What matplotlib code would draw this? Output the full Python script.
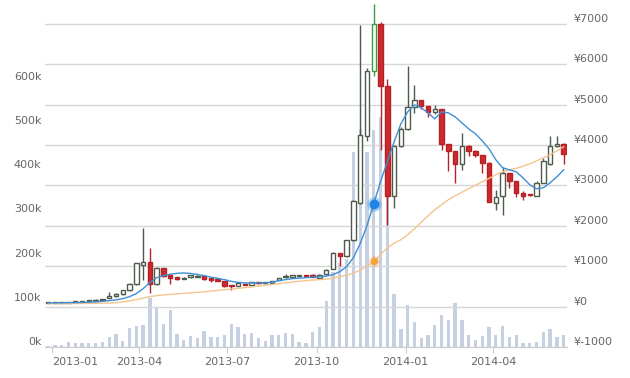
import pandas as pd
import matplotlib
matplotlib.use('Agg')
import matplotlib.pyplot as plt
import matplotlib.dates as mdates

# weekly candles
dates = pd.date_range('2012-12-28', periods=77, freq='7D')

opens = [88, 92, 95, 100, 108, 115, 128, 140, 170, 215,
         260, 320, 405, 560, 1020, 1105, 562, 950, 775, 725,
         695, 730, 740, 760, 710, 690, 626, 515, 520, 570,
         540, 590, 575, 580, 655, 740, 740, 750, 755, 790,
         720, 810, 935, 1320, 1262, 1641, 2566, 4215, 5825, 7004,
         5470, 2730, 3968, 4405, 4933, 5106, 4957, 4818, 4893, 4020,
         3844, 3540, 3990, 3861, 3745, 3557, 2566, 2730, 3309, 3102,
         2814, 2780, 2747, 3062, 3532, 3968, 4027]
closes = [92, 95, 100, 108, 115, 128, 140, 170, 180, 270,
          320, 410, 570, 1080, 1105, 560, 958, 750, 700, 690,
          710, 775, 770, 690, 660, 640, 502, 505, 585, 545,
          600, 575, 585, 640, 710, 755, 785, 755, 750, 740,
          790, 915, 1330, 1245, 1641, 2606, 4240, 5825, 7004, 5470,
          2747, 3968, 4400, 4933, 5106, 4957, 4818, 4905, 4020, 3844,
          3540, 3980, 3860, 3745, 3557, 2600, 2705, 3309, 3119, 2814,
          2730, 2760, 3062, 3597, 3968, 4027, 3779]
lows = [86, 90, 93, 98, 105, 112, 125, 135, 165, 205,
        245, 300, 390, 540, 670, 340, 540, 740, 560, 660,
        680, 715, 730, 670, 620, 630, 495, 420, 505, 540,
        530, 570, 570, 575, 650, 710, 730, 745, 745, 735,
        715, 800, 920, 1000, 1240, 1620, 2540, 4100, 5717, 3886,
        2030, 2450, 3950, 4380, 4794, 4900, 4690, 4760, 3880, 3350,
        3062, 3390, 3720, 3700, 3309, 2590, 2400, 2277, 2938, 2705,
        2640, 2740, 2740, 3050, 3500, 3960, 3532]
highs = [95, 98, 104, 112, 120, 132, 150, 200, 190, 350,
         330, 420, 580, 1090, 1955, 1450, 990, 960, 790, 740,
         740, 785, 780, 770, 715, 695, 630, 525, 590, 575,
         605, 595, 590, 645, 715, 810, 795, 760, 760, 800,
         800, 930, 1345, 1330, 1660, 2630, 6980, 5900, 7500, 7050,
         5635, 4000, 4450, 5960, 5477, 5120, 4970, 5000, 4900, 4030,
         3850, 4290, 4000, 3870, 3760, 3570, 2895, 3449, 3320, 3110,
         2870, 2800, 3120, 3680, 4215, 4215, 4040]

# weekly volume, thousands
volumes = [2, 4.5, 4.5, 10.6, 8, 8, 8, 8, 12, 22,
           28.7, 14, 43.7, 47.5, 49.8, 110, 90, 52, 83.7, 28.7,
           16.5, 25, 20, 37, 22, 23.4, 27, 51, 46, 28.7,
           31, 19.6, 13.6, 27, 27, 32, 28.7, 12, 9.7, 34.6,
           46, 103, 170, 190, 200, 442, 494, 442, 490, 520,
           440, 121, 40, 95, 57, 19.6, 28, 49, 72, 61,
           100, 61, 27, 16, 25, 46, 27, 48, 23, 27,
           10, 10, 12, 34.6, 40, 22, 28]

ma_short = [92, 92, 94, 96, 99, 104, 111, 119, 131, 148,
            166, 198, 247, 322, 445, 594, 717, 767, 804, 824,
            834, 821, 796, 767, 730, 700, 668, 626, 601, 586,
            586, 586, 589, 606, 643, 668, 693, 705, 717, 730,
            742, 754, 792, 866, 989, 1212, 1558, 2004, 2548, 3092,
            3587, 4081, 4527, 4823, 4997, 4922, 4799, 4650, 4823, 4799,
            4700, 4551, 4403, 4279, 4106, 3908, 3636, 3438, 3389, 3339,
            3191, 3018, 2919, 2943, 3067, 3216, 3389]
ma_long = [74, 74, 74, 77, 77, 79, 79, 82, 84, 87,
           99, 116, 141, 173, 210, 247, 272, 289, 304, 317,
           329, 341, 354, 369, 383, 401, 418, 435, 453, 470,
           490, 510, 529, 549, 569, 589, 608, 628, 643, 658,
           668, 680, 705, 742, 779, 829, 903, 1002, 1120, 1286,
           1459, 1571, 1657, 1781, 1929, 2090, 2251, 2399, 2523, 2647,
           2746, 2832, 2919, 3005, 3092, 3178, 3265, 3339, 3389, 3426,
           3475, 3537, 3611, 3686, 3760, 3859, 3958]

highlight = 48
tick_dates = pd.to_datetime(['2013-01-01', '2013-04-01', '2013-07-01',
                             '2013-10-01', '2014-01-01', '2014-04-01'])

fig = plt.figure(figsize=(6.3, 3.78), dpi=100)
ax = fig.add_axes([45 / 630, 31 / 378, 522 / 630, 347 / 378])
ax2 = ax.twinx()

# volume bars (left axis)
ax.bar(dates, volumes, width=3.4, color='#c6d0e3', zorder=1)
ax.set_ylim(0, 785)
ax.set_yticks(range(0, 700, 100))
ax.set_yticklabels(['%dk' % v for v in range(0, 700, 100)])
ax.tick_params(axis='y', length=0, pad=2.5, labelcolor='#666666', labelsize=8)

# price axis (right)
ax2.set_ylim(-1000, 7594)
ax2.set_yticks(range(-1000, 8000, 1000))
ax2.set_yticklabels(['¥%d' % v for v in range(-1000, 8000, 1000)])
ax2.tick_params(axis='y', length=0, pad=4.5, labelcolor='#666666', labelsize=8)
ax2.yaxis.grid(True, color='#d6d6d6', lw=1)
ax2.set_axisbelow(True)

up_edge = '#4d5b4d'
down_col = '#cc2a2e'
fills, edges = [], []
for i, (o, c) in enumerate(zip(opens, closes)):
    if c >= o:
        fills.append('white')
        edges.append('#3f9a3f' if i == highlight else up_edge)
    else:
        fills.append(down_col)
        edges.append('#b52226')
bottoms = [min(o, c) for o, c in zip(opens, closes)]
heights = [max(abs(c - o), 25) for o, c in zip(opens, closes)]

ax2.vlines(dates, lows, highs, colors=edges, lw=1, zorder=3)
ax2.bar(dates, heights, bottom=bottoms, width=4.6, color=fills,
        edgecolor=edges, lw=1, zorder=4)

ax2.plot(dates, ma_long, color='#f3c58c', lw=1, zorder=5)
ax2.plot(dates, ma_short, color='#3f8fd6', lw=1, zorder=5)
ax2.scatter([dates[highlight]], [ma_short[highlight]], s=110, color='#1d86e6',
            alpha=0.3, lw=0, zorder=6)
ax2.scatter([dates[highlight]], [ma_short[highlight]], s=50, color='#1d86e6',
            lw=0, zorder=7)
ax2.scatter([dates[highlight]], [ma_long[highlight]], s=60, color='#f5a33a',
            alpha=0.3, lw=0, zorder=6)
ax2.scatter([dates[highlight]], [ma_long[highlight]], s=28, color='#f5a33a',
            lw=0, zorder=7)

ax.set_xlim(pd.Timestamp('2012-12-24 19:00'), pd.Timestamp('2014-06-16 10:00'))
ax.set_xticks(tick_dates)
ax.xaxis.set_major_formatter(mdates.DateFormatter('%Y-%m'))
ax.tick_params(axis='x', length=4, color='#cccccc', pad=3,
               labelcolor='#666666', labelsize=8)

for a in (ax, ax2):
    for side in ('top', 'left', 'right'):
        a.spines[side].set_visible(False)
    a.spines['bottom'].set_color('#cccccc')

fig.canvas.draw()
for lab in ax.get_yticklabels() + ax2.get_yticklabels():
    lab.set_va('bottom')
ax.get_xticklabels()[0].set_ha('left')

fig.savefig('out.png', dpi=100)
